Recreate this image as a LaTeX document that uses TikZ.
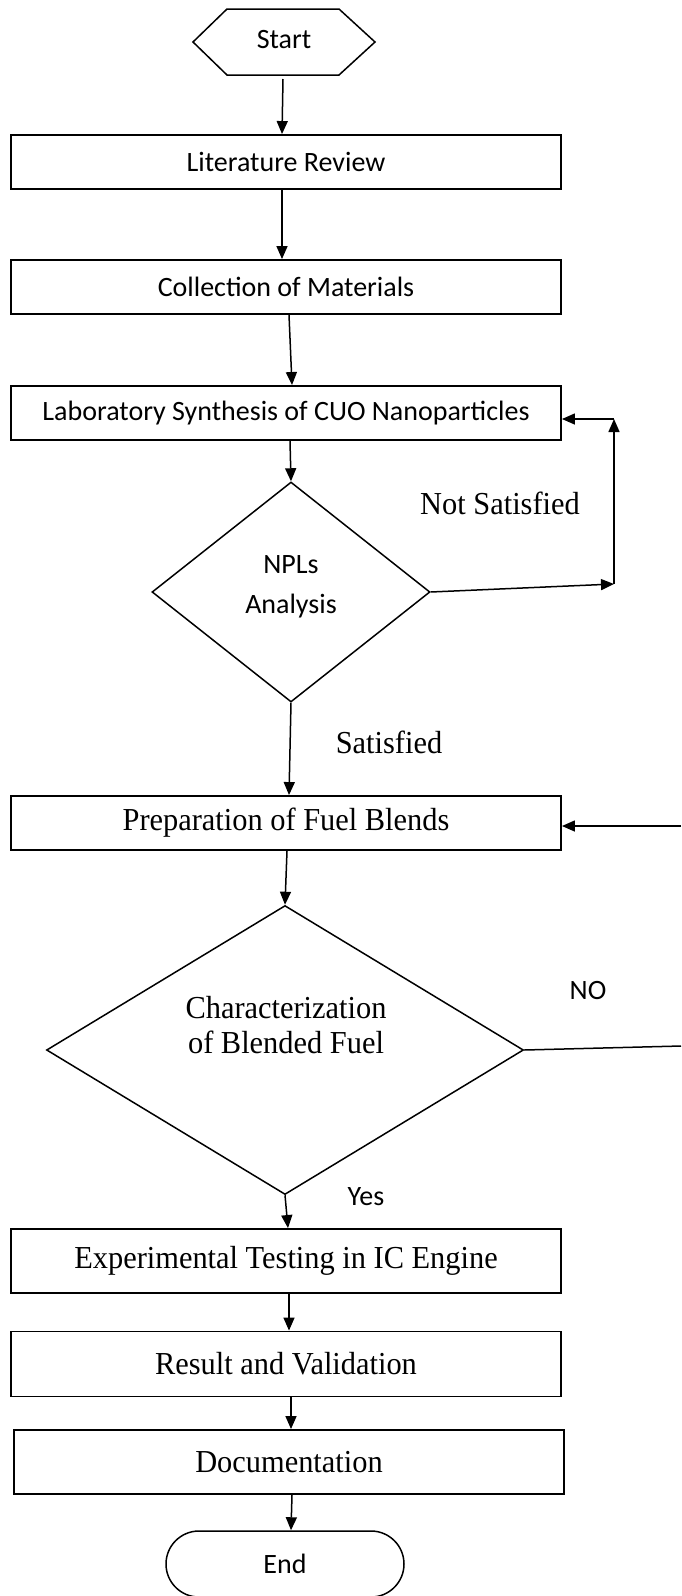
\documentclass[tikz,border=0pt]{standalone}
\usepackage{fontspec}
\setmainfont{Liberation Serif}[FakeStretch=0.95]
\newfontfamily\calibri{Carlito}
\usetikzlibrary{arrows.meta,shapes.geometric,shapes.misc}
\begin{document}
\begin{tikzpicture}[x=1pt,y=-1pt,
  line width=1.5pt,
  arr/.style={-{Triangle[length=13pt,width=11pt]}},
  sanstxt/.style={font=\calibri\fontsize{28}{34}\selectfont},
  seriftxt/.style={font=\fontsize{32}{35}\selectfont},
  procbox/.style={draw, line width=1.9pt, rectangle, minimum width=550pt, minimum height=54pt, inner sep=0pt},
  decbox/.style={draw, diamond, inner sep=0pt}
]
\useasboundingbox (0,0) rectangle (681,1596);
\fill[white] (0,0) rectangle (681,1596);

% Start hexagon
\node[sanstxt] (start) at (284,40) {Start};
\draw (193,42) -- (227,9) -- (339,9) -- (375,42) -- (339,75) -- (227,75) -- cycle;
\coordinate (startb) at (283,79);

\node[procbox, sanstxt] (lit) at (286,162) {Literature Review};
\node[procbox, sanstxt] (coll) at (286,287) {Collection of Materials};
\node[procbox, sanstxt] (lab) at (286,413) {Laboratory Synthesis of CUO Nanoparticles};
\node[decbox, minimum width=278pt, minimum height=220pt] (npl) at (291,592) {};
\node[sanstxt, align=center, font=\calibri\fontsize{28}{40}\selectfont] (npltxt) at (291,587) {NPLs\\Analysis};
\node[procbox, seriftxt] (prep) at (286,823) {Preparation of Fuel Blends};
\node[decbox, minimum width=477pt, minimum height=289pt] (char) at (285,1050) {};
\node[seriftxt, align=center] (chartxt) at (286,1025) {Characterization\\of Blended Fuel};
\node[procbox, seriftxt, minimum height=64pt] (exp) at (286,1261) {Experimental Testing in IC Engine};
\node[procbox, seriftxt, minimum height=65pt] (res) at (286,1364) {Result and Validation};
\node[procbox, seriftxt, minimum height=64pt] (doc) at (289,1462) {Documentation};
\node[draw, rounded rectangle, sanstxt, minimum width=238pt, minimum height=66pt, inner sep=0pt] (end) at (285,1564) {End};

% labels
\node[seriftxt] (notsat) at (500,503) {Not Satisfied};
\node[seriftxt] (sat) at (389,742) {Satisfied};
\node[sanstxt] (no) at (588,990) {NO};
\node[sanstxt] (yes) at (366,1197) {Yes};

% main flow
\draw[arr] (startb) -- ([xshift=-4pt]lit.north);
\draw[arr] ([xshift=-4pt]lit.south) -- ([xshift=-4pt]coll.north);
\draw[arr] ([xshift=3pt]coll.south) -- ([xshift=6pt]lab.north);
\draw[arr] ([xshift=4pt]lab.south) -- (npl.north);
\draw[arr] (npl.south) -- ([xshift=3pt]prep.north);
\draw[arr] ([xshift=1pt]prep.south) -- (char.north);
\draw[arr] (char.south) -- ([xshift=2pt]exp.north);
\draw[arr] ([xshift=3pt]exp.south) -- ([xshift=3pt]res.north);
\draw[arr] ([xshift=5pt]res.south) -- ([xshift=2pt]doc.north);
\draw[arr] ([xshift=3pt]doc.south) -- ([xshift=6pt]end.north);

% loop back: not satisfied
\coordinate (loopb) at (614,584);
\coordinate (loopt) at (614,419);
\draw[arr] (npl.east) -- (loopb);
\draw[arr] (loopb) -- (loopt);
\draw[arr] (loopt) -- (lab.east |- loopt);

% NO loop (runs off the right edge)
\coordinate (noe) at (681,1046);
\coordinate (prepe) at (681,826);
\draw (char.east) -- (noe);
\draw[arr] (prepe) -- (prep.east |- prepe);
\end{tikzpicture}
\end{document}
